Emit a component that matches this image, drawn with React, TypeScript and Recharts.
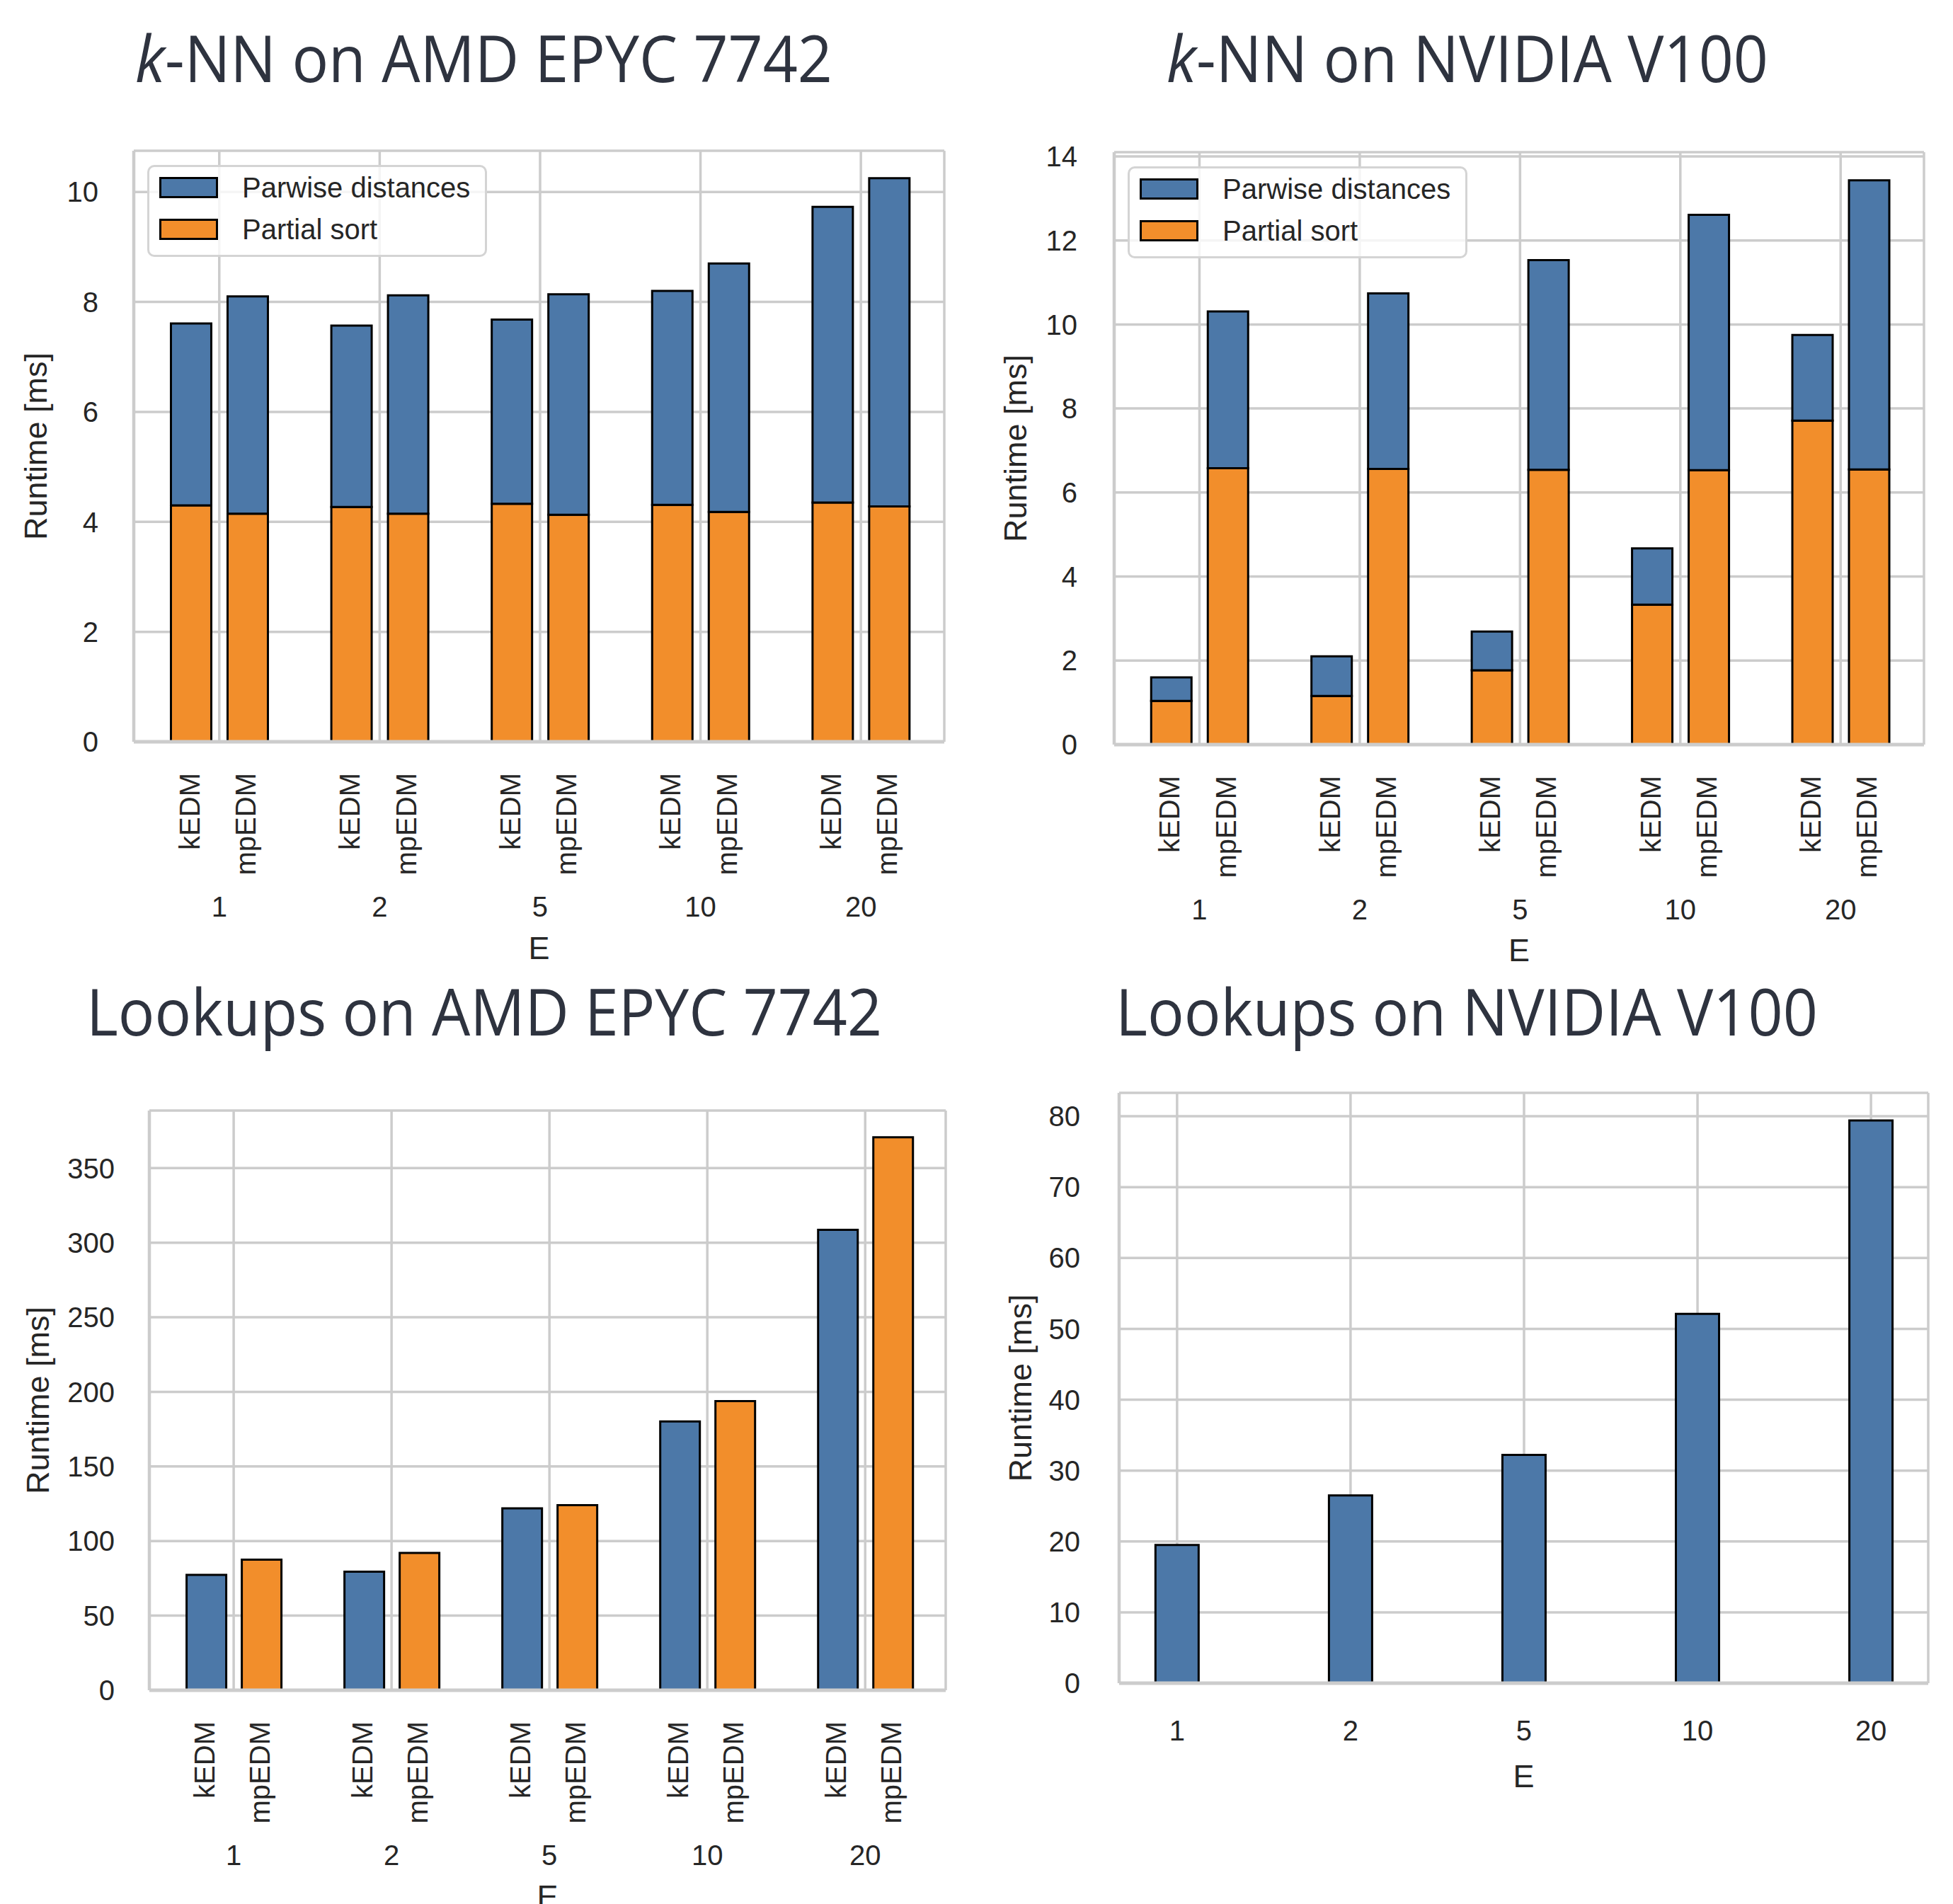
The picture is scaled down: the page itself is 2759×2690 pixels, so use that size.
import React from 'react';
import { BarChart, Bar, XAxis, YAxis, CartesianGrid, Legend } from 'recharts';

// categories (embedding dimension E) and implementations
const E_VALUES = ['1', '2', '5', '10', '20'];
const IMPLS = ['kEDM', 'mpEDM'];

// k-NN on AMD EPYC 7742 [ms]
const CPU_KEDM_SORT = [4.30, 4.27, 4.33, 4.31, 4.35];
const CPU_KEDM_PAIRWISE = [3.31, 3.30, 3.35, 3.89, 5.38];
const CPU_MPEDM_SORT = [4.15, 4.15, 4.13, 4.18, 4.28];
const CPU_MPEDM_PAIRWISE = [3.95, 3.97, 4.01, 4.52, 5.97];

// k-NN on NVIDIA V100 [ms]
const GPU_KEDM_SORT = [1.04, 1.16, 1.77, 3.33, 7.71];
const GPU_KEDM_PAIRWISE = [0.56, 0.94, 0.92, 1.34, 2.04];
const GPU_MPEDM_SORT = [6.58, 6.56, 6.54, 6.53, 6.55];
const GPU_MPEDM_PAIRWISE = [3.73, 4.18, 4.99, 6.08, 6.88];

// lookups [ms]
const LOOKUP_CPU_KEDM = [77.3, 79.5, 121.9, 180.2, 308.6];
const LOOKUP_CPU_MPEDM = [87.6, 92.0, 124.1, 193.8, 370.7];
const LOOKUP_GPU_KEDM = [19.5, 26.5, 32.2, 52.1, 79.4];

const LEGEND_ITEMS = [
  { label: 'Parwise distances', color: '#4c78a8' },
  { label: 'Partial sort', color: '#f28e2b' },
];

const BLUE = '#4c78a8';
const ORANGE = '#f28e2b';
const GRID = '#cccccc';
const INK = '#262626';
const TITLE_INK = '#2e333f';
const SANS = '"Liberation Sans", Arial, Helvetica, sans-serif';
const XH = 300;

const knnCpu = E_VALUES.map((e, i) => ({
  x: i, kSort: CPU_KEDM_SORT[i], kPair: CPU_KEDM_PAIRWISE[i], mSort: CPU_MPEDM_SORT[i], mPair: CPU_MPEDM_PAIRWISE[i],
}));
const knnGpu = E_VALUES.map((e, i) => ({
  x: i, kSort: GPU_KEDM_SORT[i], kPair: GPU_KEDM_PAIRWISE[i], mSort: GPU_MPEDM_SORT[i], mPair: GPU_MPEDM_PAIRWISE[i],
}));
const lookupCpu = E_VALUES.map((e, i) => ({ x: i, k: LOOKUP_CPU_KEDM[i], m: LOOKUP_CPU_MPEDM[i] }));
const lookupGpu = E_VALUES.map((e, i) => ({ x: i, k: LOOKUP_GPU_KEDM[i] }));

const PANELS = [
  {
    title: 'CPU kNN', kind: 'stack', data: knnCpu, legend: true,
    box: { x: 0, y: 0, w: 1380, h: 1380 }, plot: { l: 189, t: 213, r: 1334, b: 1048 },
    xDomain: [-0.533, 4.52], yDomain: [0, 10.75], yTicks: [0, 2, 4, 6, 8, 10], tickGap: 50, ylabOff: 123, eBase: 1355,
  },
  {
    title: 'GPU kNN', kind: 'stack', data: knnGpu, legend: true,
    box: { x: 1380, y: 0, w: 1379, h: 1380 }, plot: { l: 1574, t: 215, r: 2718, b: 1052 },
    xDomain: [-0.532, 4.52], yDomain: [0, 14.1], yTicks: [0, 2, 4, 6, 8, 10, 12, 14], tickGap: 52, ylabOff: 124, eBase: 1358,
  },
  {
    title: 'CPU lookups', kind: 'pair', data: lookupCpu, legend: false,
    box: { x: 0, y: 1380, w: 1380, h: 1310 }, plot: { l: 211, t: 1569, r: 1336, b: 2388 },
    xDomain: [-0.534, 4.51], yDomain: [0, 388.6], yTicks: [0, 50, 100, 150, 200, 250, 300, 350], tickGap: 49, ylabOff: 142, eBase: 2695,
  },
  {
    title: 'GPU lookups', kind: 'single', data: lookupGpu, legend: false,
    box: { x: 1380, y: 1380, w: 1379, h: 1310 }, plot: { l: 1581, t: 1544, r: 2724, b: 2378 },
    xDomain: [-0.334, 4.33], yDomain: [0, 83.3], yTicks: [0, 10, 20, 30, 40, 50, 60, 70, 80], tickGap: 55, ylabOff: 124, eBase: 2525,
  },
];

const LegendBox = () => (
  <div style={{
    boxSizing: 'border-box', position: 'relative', width: 480, height: 130,
    border: '3px solid #d4d4d4', borderRadius: 10, background: 'rgba(255,255,255,0.8)',
  }}>
    {LEGEND_ITEMS.map((it, i) => (
      <React.Fragment key={it.label}>
        <div style={{
          position: 'absolute', left: 14, top: 14 + i * 58.5, width: 83, height: 30, boxSizing: 'border-box',
          background: it.color, border: '3px solid #000',
        }} />
        <span style={{
          position: 'absolute', left: 131, top: 9 + i * 59, fontFamily: SANS, fontSize: 40, lineHeight: '40px',
          color: INK, whiteSpace: 'nowrap',
        }}>{it.label}</span>
      </React.Fragment>
    ))}
  </div>
);

const Panel = ({ cfg }: { cfg: any }) => {
  const { box, plot, xDomain, yDomain, yTicks, kind, data, legend, tickGap } = cfg;
  const yw = 150;
  const unit = (plot.r - plot.l) / (xDomain[1] - xDomain[0]);
  const barSize = Math.round(0.25 * unit);
  const barGap = Math.round(0.1 * unit);
  const margin = {
    top: plot.t - box.y,
    left: plot.l - box.x - yw,
    right: box.x + box.w - plot.r,
    bottom: box.y + box.h - plot.b - XH,
  };
  const edge = { stroke: '#000', strokeWidth: 3, isAnimationActive: false };

  const renderTick = (p: any) => {
    const label = E_VALUES[p.payload.value];
    if (kind === 'single') {
      return (
        <text x={p.x} y={p.y + 81} textAnchor="middle" fontFamily={SANS} fontSize={40} fill={INK}>{label}</text>
      );
    }
    return (
      <g>
        {IMPLS.map((name, j) => {
          const cx = p.x + (j === 0 ? -1 : 1) * 0.175 * unit;
          return (
            <text key={name} transform={`translate(${cx + 11.5},${p.y + 44}) rotate(-90)`} textAnchor="end"
              fontFamily={SANS} fontSize={40} fill={INK}>{name}</text>
          );
        })}
        <text x={p.x} y={p.y + 247} textAnchor="middle" fontFamily={SANS} fontSize={40} fill={INK}>{label}</text>
      </g>
    );
  };

  return (
    <div style={{ position: 'absolute', left: box.x, top: box.y }}>
      <BarChart width={box.w} height={box.h} data={data} margin={margin} barSize={barSize} barGap={barGap}>
        <CartesianGrid stroke={GRID} strokeWidth={3.5} />
        <XAxis dataKey="x" type="number" domain={xDomain} ticks={[0, 1, 2, 3, 4]} interval={0} height={XH}
          tickSize={0} tickMargin={0} tickLine={false} axisLine={{ stroke: GRID, strokeWidth: 5 }} tick={renderTick} />
        <XAxis xAxisId="top" orientation="top" type="number" domain={xDomain} allowDataOverflow height={0}
          tick={false} tickLine={false} axisLine={{ stroke: GRID, strokeWidth: 4.5 }} />
        <YAxis type="number" domain={yDomain} ticks={yTicks} interval={0} width={yw} tickSize={0} tickMargin={tickGap}
          tickLine={false} axisLine={{ stroke: GRID, strokeWidth: 4.5 }}
          tick={{ fontSize: 40, fill: INK, fontFamily: SANS }} />
        <YAxis yAxisId="right" orientation="right" type="number" domain={yDomain} allowDataOverflow width={0}
          tick={false} tickLine={false} axisLine={{ stroke: GRID, strokeWidth: 4.5 }} />
        {kind === 'stack' && <Bar dataKey="kSort" stackId="k" fill={ORANGE} {...edge} />}
        {kind === 'stack' && <Bar dataKey="kPair" stackId="k" fill={BLUE} {...edge} />}
        {kind === 'stack' && <Bar dataKey="mSort" stackId="m" fill={ORANGE} {...edge} />}
        {kind === 'stack' && <Bar dataKey="mPair" stackId="m" fill={BLUE} {...edge} />}
        {kind !== 'stack' && <Bar dataKey="k" fill={BLUE} {...edge} />}
        {kind === 'pair' && <Bar dataKey="m" fill={ORANGE} {...edge} />}
        {legend && (
          <Legend layout="vertical" align="center" verticalAlign="middle"
            wrapperStyle={{ left: plot.l - box.x + 19, top: plot.t - box.y + 20, width: 480, height: 130 }}
            content={() => <LegendBox />} />
        )}
      </BarChart>
    </div>
  );
};

const TITLE_PROPS = { fontFamily: '"Open Sans", "Noto Sans", sans-serif', fontSize: 91, fill: TITLE_INK, lengthAdjust: 'spacingAndGlyphs' as const };

export default function App() {
  return (
    <div style={{ position: 'absolute', left: 0, top: 0, width: 2759, height: 2690, background: '#fff', overflow: 'hidden' }}>
      {PANELS.map((cfg) => <Panel key={cfg.title} cfg={cfg} />)}
      <svg width={2759} height={2690} style={{ position: 'absolute', left: 0, top: 0, pointerEvents: 'none' }}>
        <text x={191} y={116} textLength={985} {...TITLE_PROPS}>
          <tspan fontStyle="italic">k</tspan>-NN on AMD EPYC 7742
        </text>
        <text x={1648} y={116} textLength={850} {...TITLE_PROPS}>
          <tspan fontStyle="italic">k</tspan>-NN on NVIDIA V100
        </text>
        <text x={122} y={1463} textLength={1124} {...TITLE_PROPS}>Lookups on AMD EPYC 7742</text>
        <text x={1576} y={1463} textLength={992} {...TITLE_PROPS}>Lookups on NVIDIA V100</text>
        {PANELS.map((cfg) => {
          const cy = (cfg.plot.t + cfg.plot.b) / 2;
          const bx = cfg.plot.l - cfg.ylabOff;
          return (
            <g key={cfg.title}>
              <text transform={`translate(${bx},${cy}) rotate(-90)`} textAnchor="middle" fontFamily={SANS}
                fontSize={45} fill={INK}>Runtime [ms]</text>
              <text x={(cfg.plot.l + cfg.plot.r) / 2} y={cfg.eBase} textAnchor="middle" fontFamily={SANS}
                fontSize={45} fill={INK}>E</text>
            </g>
          );
        })}
      </svg>
    </div>
  );
}
